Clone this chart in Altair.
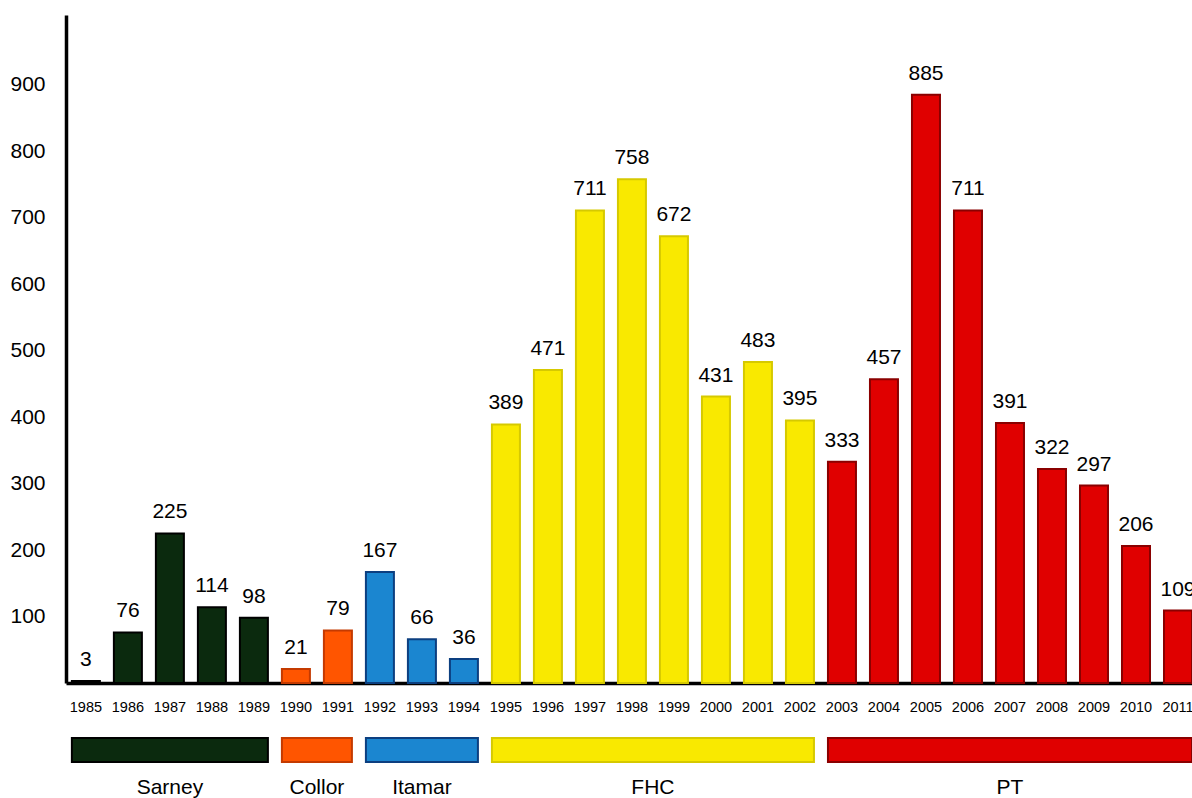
import altair as alt
import pandas as pd

years = [str(y) for y in range(1985, 2012)]
values = [3, 76, 225, 114, 98, 21, 79, 167, 66, 36, 389, 471, 711, 758, 672,
          431, 483, 395, 333, 457, 885, 711, 391, 322, 297, 206, 109]

gov_names = ["Sarney", "Collor", "Itamar", "FHC", "PT"]
gov_start = ["1985", "1990", "1992", "1995", "2003"]
gov_end = ["1989", "1991", "1994", "2002", "2011"]
gov_fill = ["#0b2a0e", "#ff5500", "#1b86d0", "#f9e900", "#e00000"]
gov_stroke = ["#000000", "#c43a00", "#0c3f80", "#d6c900", "#8a0000"]

FONT = "Liberation Sans, Arial, Helvetica, sans-serif"


def gov_of(y):
    for n, s, e in zip(gov_names, gov_start, gov_end):
        if s <= y <= e:
            return n
    return None


df = pd.DataFrame({"year": years, "value": values})
df["gov"] = [gov_of(y) for y in years]

gdf = pd.DataFrame({"gov": gov_names, "start": gov_start, "end": gov_end})
# middle year of each term (left-middle one when the term has an even count)
span = [int(e) - int(s) + 1 for s, e in zip(gov_start, gov_end)]
gdf["mid"] = [str(int(s) + (n - 1) // 2) for s, n in zip(gov_start, span)]
gdf["even"] = [n % 2 == 0 for n in span]

INNER = 1 / 3
xscale = alt.Scale(domain=years, paddingInner=INNER, paddingOuter=0.07, align=1)
fill_scale = alt.Scale(domain=gov_names, range=gov_fill)
stroke_scale = alt.Scale(domain=gov_names, range=gov_stroke)

x = alt.X(
    "year:O",
    scale=xscale,
    axis=alt.Axis(
        title=None,
        labelAngle=0,
        labelFont=FONT,
        labelFontSize=14.5,
        labelColor="#000",
        labelPadding=17,
        ticks=False,
        tickSize=0,
        domainColor="#000",
        domainWidth=3.5,
        labelBaseline="top",
    ),
)
y = alt.Y(
    "value:Q",
    scale=alt.Scale(domain=[0, 1005], nice=False, zero=True),
    axis=alt.Axis(
        title=None,
        values=[100, 200, 300, 400, 500, 600, 700, 800, 900],
        labelFont=FONT,
        labelFontSize=21,
        labelColor="#000",
        labelPadding=21,
        ticks=False,
        tickSize=0,
        grid=False,
        domainColor="#000",
        domainWidth=3.5,
    ),
)

bars = alt.Chart(df).mark_bar(strokeWidth=2).encode(
    x=x,
    y=y,
    color=alt.Color("gov:N", scale=fill_scale, legend=None),
    stroke=alt.Stroke("gov:N", scale=stroke_scale, legend=None),
)

labels = alt.Chart(df).mark_text(
    baseline="alphabetic", dy=-15, font=FONT, fontSize=21, color="#000"
).encode(x=x, y=y, text="value:Q")

gov_bars = alt.Chart(gdf).mark_rect(strokeWidth=2).encode(
    x=alt.X("start:O", scale=xscale, bandPosition=0),
    x2=alt.X2("end", bandPosition=1),
    y=alt.value(723),
    y2=alt.value(747),
    color=alt.Color("gov:N", scale=fill_scale, legend=None),
    stroke=alt.Stroke("gov:N", scale=stroke_scale, legend=None),
)

gov_text_odd = alt.Chart(gdf).transform_filter("!datum.even").mark_text(
    baseline="alphabetic", align="center", font=FONT, fontSize=21, color="#000"
).encode(
    x=alt.X("mid:O", scale=xscale, bandPosition=0.5),
    y=alt.value(779),
    text="gov:N",
)
# even-length terms: centre of the gap after the left-middle bar (gap = 14 px)
gov_text_even = alt.Chart(gdf).transform_filter("datum.even").mark_text(
    baseline="alphabetic", align="center", dx=7, font=FONT, fontSize=21, color="#000"
).encode(
    x=alt.X("mid:O", scale=xscale, bandPosition=1),
    y=alt.value(779),
    text="gov:N",
)

chart = (
    alt.layer(bars, labels, gov_bars, gov_text_odd, gov_text_even)
    .properties(
        width=1126,
        height=668,
        autosize=alt.AutoSizeParams(type="none"),
        padding={"left": 66, "top": 15, "right": 0, "bottom": 115},
        background="#ffffff",
    )
    .configure_view(stroke=None)
)

chart.save("out.html", embed_options={"renderer": "svg", "actions": False})
